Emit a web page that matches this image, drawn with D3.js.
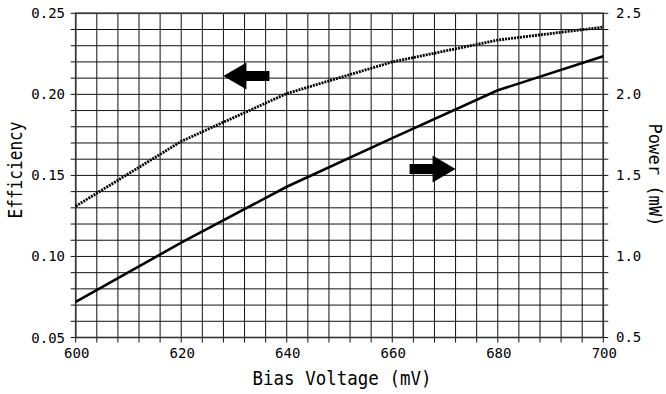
<html>
<script src='https://d3js.org/d3.v7.min.js'></script>
<style>
  body { margin: 0; background: white; }
  text { font-family: "DejaVu Sans Mono", "Liberation Mono", monospace; fill: black; }
</style>
<body>
<svg id="chart" width=666 height=394></svg>
<script>
// data
const voltage = [600, 620, 640, 660, 680, 700];
const efficiency = [0.131, 0.171, 0.2005, 0.220, 0.2335, 0.2415];
const power = [0.72, 1.085, 1.43, 1.73, 2.025, 2.235];

const xTicks = d3.range(600, 701, 4);
const xLabels = [600, 620, 640, 660, 680, 700];
const effTicks = d3.range(0.05, 0.2501, 0.01);
const effLabels = ["0.05", "0.10", "0.15", "0.20", "0.25"];
const powTicks = d3.range(0.5, 2.501, 0.1);
const powLabels = ["0.5", "1.0", "1.5", "2.0", "2.5"];

// arrows pointing to each curve's axis: [voltage, value, direction]
const effArrow = [628, 0.2113, -1];
const powArrow = [672, 1.539, 1];

var svg = d3.select("#chart");
var pLeft = 75.7, pRight = 603.3, pTop = 13.3, pBottom = 337.5;

var xs = d3.scaleLinear([600, 700], [pLeft, pRight]);
var ye = d3.scaleLinear([0.05, 0.25], [pBottom, pTop]);
var yp = d3.scaleLinear([0.5, 2.5], [pBottom, pTop]);

// grid
svg.append("g").selectAll("line")
  .data(xTicks).enter().append("line")
  .attr("x1", d => xs(d)).attr("x2", d => xs(d))
  .attr("y1", pTop).attr("y2", pBottom + 5)
  .attr("stroke", "#111").attr("stroke-width", 1);
svg.append("g").selectAll("line")
  .data(effTicks).enter().append("line")
  .attr("x1", pLeft - 5).attr("x2", pRight + 5)
  .attr("y1", d => ye(d)).attr("y2", d => ye(d))
  .attr("stroke", "#111").attr("stroke-width", 1);

// frame
svg.append("rect")
  .attr("x", pLeft).attr("y", pTop)
  .attr("width", pRight - pLeft).attr("height", pBottom - pTop)
  .attr("fill", "none").attr("stroke", "#333").attr("stroke-width", 1.6);

// tick labels
svg.append("g").selectAll("text")
  .data(xLabels).enter().append("text")
  .attr("x", d => xs(d) + 1).attr("y", 358)
  .attr("text-anchor", "middle").attr("font-size", 14)
  .text(d => d);
svg.append("g").selectAll("text")
  .data(effLabels).enter().append("text")
  .attr("x", 65).attr("y", d => ye(+d)).attr("dy", "0.36em")
  .attr("text-anchor", "end").attr("font-size", 14)
  .text(d => d);
svg.append("g").selectAll("text")
  .data(powLabels).enter().append("text")
  .attr("x", 616).attr("y", d => yp(+d)).attr("dy", "0.3em")
  .attr("text-anchor", "start").attr("font-size", 14)
  .text(d => d);

// axis titles
svg.append("text")
  .attr("x", 342).attr("y", 385)
  .attr("text-anchor", "middle").attr("font-size", 20)
  .attr("textLength", 179).attr("lengthAdjust", "spacingAndGlyphs")
  .text("Bias Voltage (mV)");
svg.append("text")
  .attr("transform", "translate(22,170) rotate(-90)")
  .attr("text-anchor", "middle").attr("font-size", 19)
  .attr("textLength", 97).attr("lengthAdjust", "spacingAndGlyphs")
  .text("Efficiency");
svg.append("text")
  .attr("transform", "translate(649,175) rotate(90)")
  .attr("text-anchor", "middle").attr("font-size", 18)
  .attr("textLength", 103).attr("lengthAdjust", "spacingAndGlyphs")
  .text("Power (mW)");

// curves
var effLine = d3.line().x((d, i) => xs(voltage[i])).y(d => ye(d));
var powLine = d3.line().x((d, i) => xs(voltage[i])).y(d => yp(d));

svg.append("path").attr("d", effLine(efficiency))
  .attr("fill", "none").attr("stroke", "black")
  .attr("stroke-width", 2.8).attr("stroke-dasharray", "2,1");
svg.append("path").attr("d", powLine(power))
  .attr("fill", "none").attr("stroke", "black")
  .attr("stroke-width", 2.6);

// block arrows
var arrowShape = "M0,0 L-23,-13.5 L-23,-5 L-46,-5 L-46,5 L-23,5 L-23,13.5 Z";
svg.append("path").attr("d", arrowShape)
  .attr("transform", "translate(" + xs(effArrow[0]) + "," + ye(effArrow[1]) + ") scale(" + effArrow[2] + ",1)")
  .attr("fill", "black");
svg.append("path").attr("d", arrowShape)
  .attr("transform", "translate(" + xs(powArrow[0]) + "," + yp(powArrow[1]) + ") scale(" + powArrow[2] + ",1)")
  .attr("fill", "black");
</script>
</body>
</html>
